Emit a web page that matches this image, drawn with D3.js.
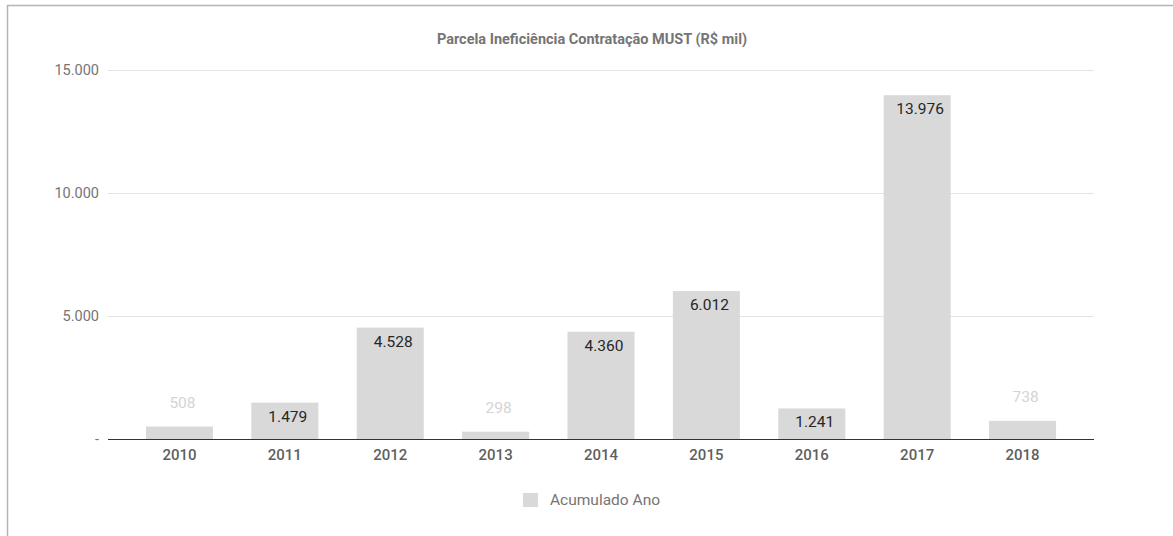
<!DOCTYPE html>
<html>
<head>
<meta charset="utf-8">
<script src="https://cdn.jsdelivr.net/npm/d3@7"></script>
<style>
  body { margin: 0; background: #fff; font-family: Roboto, "Noto Sans", sans-serif; }
</style>
</head>
<body>
<div id="chart"></div>
<script>
// Chart data
const years = ['2010', '2011', '2012', '2013', '2014', '2015', '2016', '2017', '2018'];
const values = [508, 1479, 4528, 298, 4360, 6012, 1241, 13976, 738];
const yTicks = [0, 5000, 10000, 15000];
const seriesName = 'Acumulado Ano';
const title = 'Parcela Ineficiência Contratação MUST (R$ mil)';

const W = 1173, H = 536;
const plot = { left: 108, right: 1094, top: 70, bottom: 439 };

const svg = d3.select('#chart')
  .append('svg')
  .attr('width', W)
  .attr('height', H);

// Outer frame (runs off the right and bottom edge)
svg.append('rect')
  .attr('x', 7.5)
  .attr('y', 5.5)
  .attr('width', W + 20)
  .attr('height', H + 20)
  .attr('fill', '#fff')
  .attr('stroke', '#b5b5b5')
  .attr('stroke-width', 1.5);

// Title
svg.append('text')
  .attr('x', 592)
  .attr('y', 44)
  .attr('text-anchor', 'middle')
  .attr('fill', '#757575')
  .attr('font-size', '14.5px')
  .attr('font-weight', 'bold')
  .text(title);

// Scales
const x = d3.scaleBand()
  .domain(years)
  .range([plot.left, plot.right])
  .paddingInner(0.364)
  .paddingOuter(0.36);

const y = d3.scaleLinear()
  .domain([0, 15000])
  .range([plot.bottom, plot.top]);

const fmt = d => d === 0 ? '-' : d3.format(',')(d).replace(/,/g, '.');

// Gridlines
svg.append('g')
  .attr('class', 'grid')
  .attr('transform', `translate(${plot.left},0)`)
  .call(d3.axisLeft(y)
    .tickValues(yTicks.filter(d => d > 0))
    .tickSize(-(plot.right - plot.left))
    .tickFormat(''))
  .call(g => g.select('.domain').remove())
  .selectAll('line')
  .attr('stroke', '#e3e3e3')
  .attr('stroke-width', 1);

// Y axis labels
svg.append('g')
  .attr('class', 'axis y-axis')
  .attr('transform', `translate(${plot.left},0)`)
  .call(d3.axisLeft(y).tickValues(yTicks).tickSize(0).tickPadding(9).tickFormat(fmt))
  .call(g => g.select('.domain').remove())
  .selectAll('text')
  .attr('fill', '#757575')
  .attr('font-family', 'Roboto, sans-serif')
  .attr('font-size', '14.5px');

// Bars
svg.selectAll('.bar')
  .data(values)
  .enter()
  .append('rect')
  .attr('class', 'bar')
  .attr('x', (d, i) => x(years[i]))
  .attr('y', d => y(d))
  .attr('width', x.bandwidth())
  .attr('height', d => y(0) - y(d))
  .attr('fill', '#d9d9d9');

// Value labels: inside the bar when there is room, above otherwise
svg.selectAll('.value-label')
  .data(values)
  .enter()
  .append('text')
  .attr('class', 'value-label')
  .attr('x', (d, i) => x(years[i]) + x.bandwidth() / 2 + 3)
  .attr('y', d => (y(0) - y(d)) > 25 ? y(d) + 19 : y(d) - 19)
  .attr('text-anchor', 'middle')
  .attr('font-size', '15.5px')
  .attr('fill', d => (y(0) - y(d)) > 25 ? '#262626' : '#d4d4d4')
  .text(fmt);

// Baseline
svg.append('line')
  .attr('x1', plot.left)
  .attr('x2', plot.right)
  .attr('y1', y(0) + 0.5)
  .attr('y2', y(0) + 0.5)
  .attr('stroke', '#333')
  .attr('stroke-width', 1);

// X axis labels
svg.append('g')
  .attr('class', 'axis x-axis')
  .attr('transform', `translate(0,${plot.bottom})`)
  .call(d3.axisBottom(x).tickSize(0).tickPadding(10))
  .call(g => g.select('.domain').remove())
  .selectAll('text')
  .attr('fill', '#5f5f5f')
  .attr('font-family', 'Roboto, sans-serif')
  .attr('font-size', '15px')
  .attr('font-weight', '500');

// Legend
const legend = svg.append('g')
  .attr('transform', 'translate(523,493)');

legend.append('rect')
  .attr('width', 15)
  .attr('height', 14)
  .attr('fill', '#d9d9d9');

legend.append('text')
  .attr('x', 27)
  .attr('y', 12)
  .attr('fill', '#757575')
  .attr('font-size', '15.5px')
  .text(seriesName);
</script>
</body>
</html>
